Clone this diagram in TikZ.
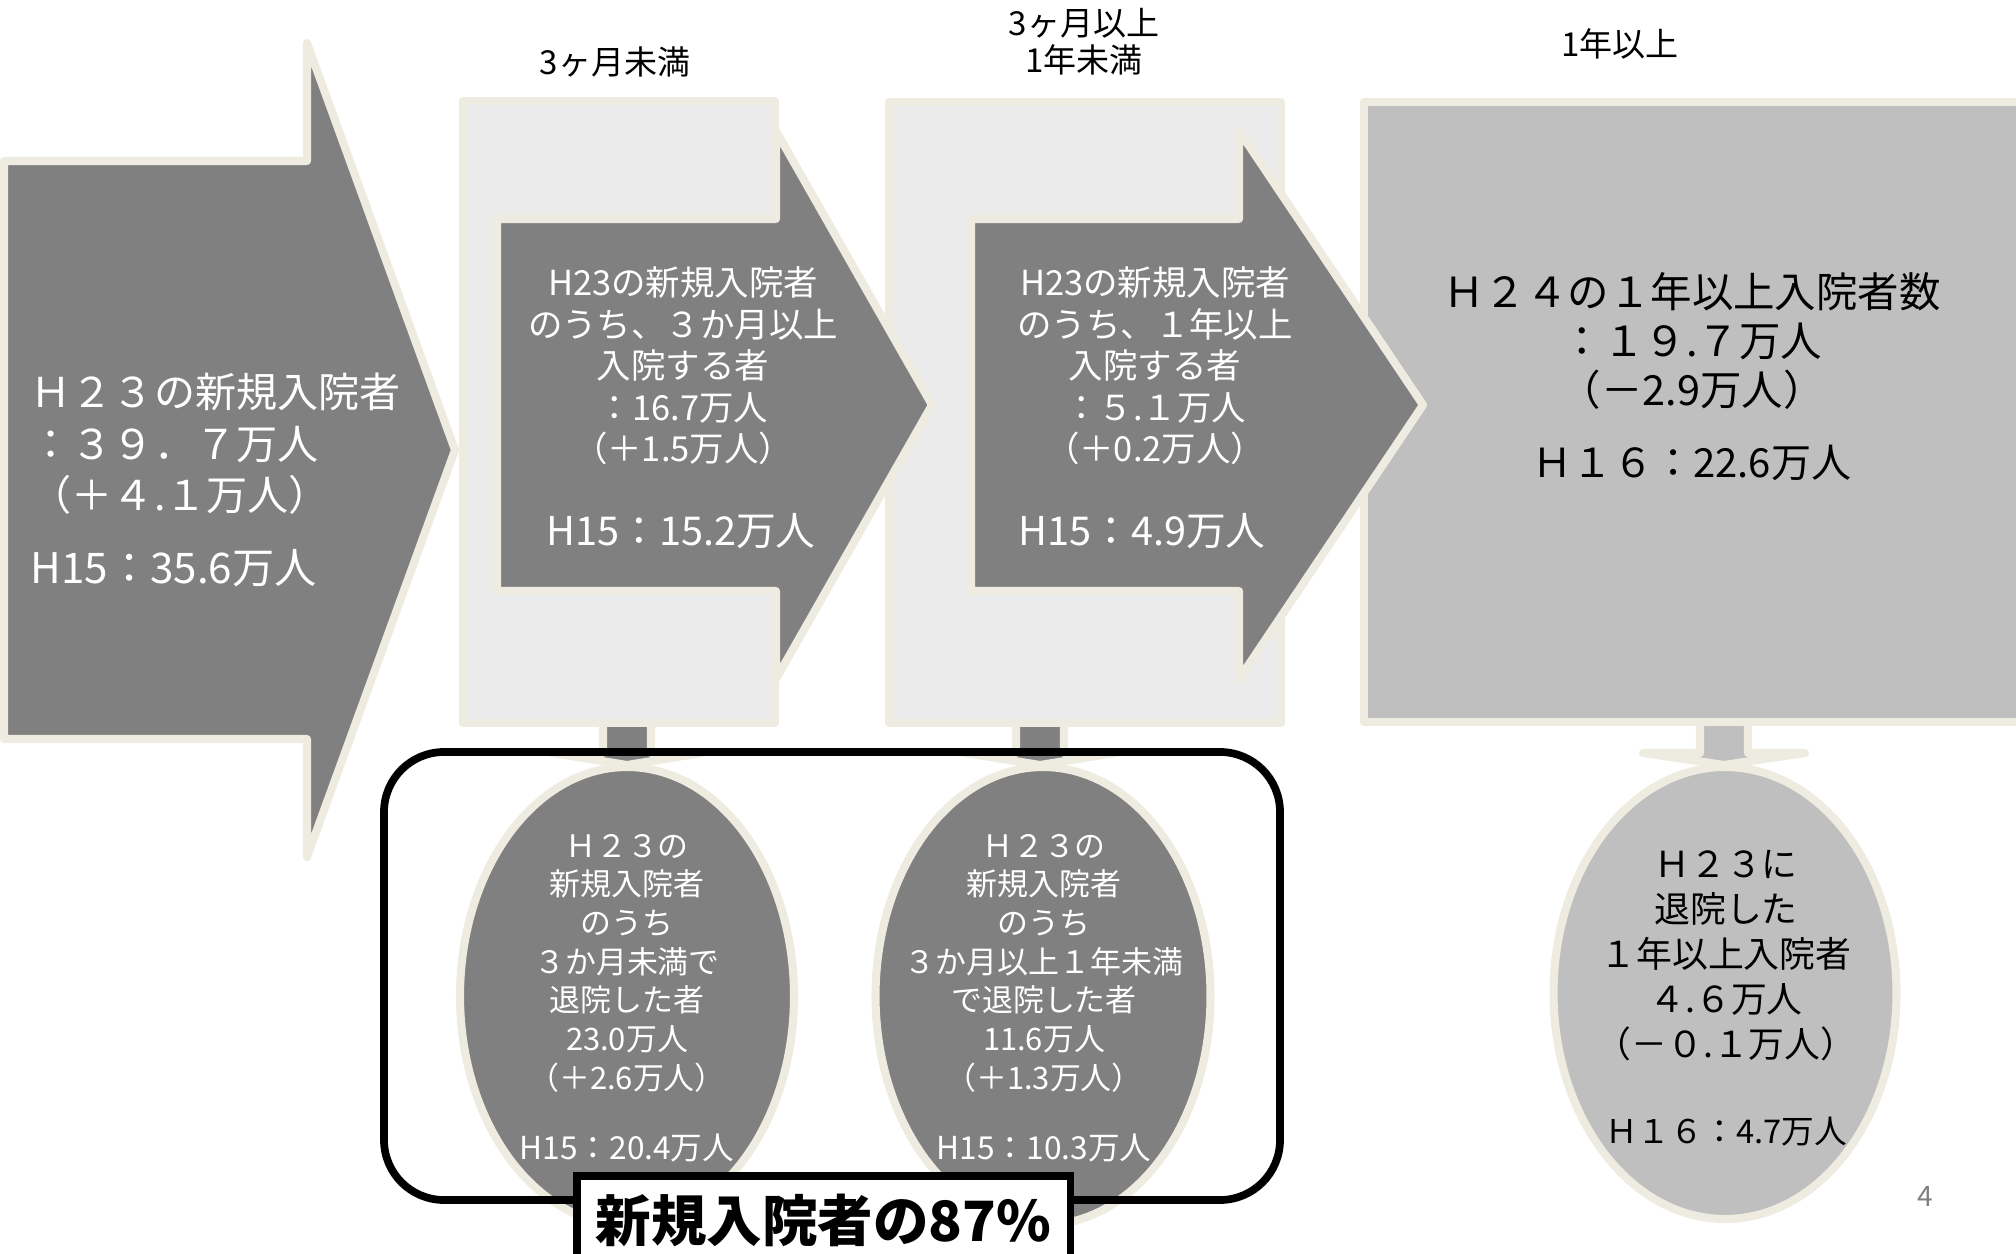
\documentclass[tikz,border=0pt]{standalone}
\usepackage{fontspec}
\setmainfont{Noto Sans CJK JP}

\definecolor{cream}{HTML}{EEECE1}
\definecolor{darkbox}{HTML}{808080}
\definecolor{lightbox}{HTML}{EAEAEA}
\definecolor{midbox}{HTML}{BFBFBF}

\begin{document}
\begin{tikzpicture}[
    rim/.style={draw=cream, line width=2.3pt, line join=round},
    wtext/.style={text=white, align=center, inner sep=0pt},
    btext/.style={text=black, align=center, inner sep=0pt},
    hugefont/.style={font=\fontsize{11.7}{14.6}\selectfont},
    arrowfont/.style={font=\fontsize{9.8}{11.8}\selectfont},
    ovalfont/.style={font=\fontsize{8.8}{11}\selectfont},
    headfont/.style={font=\fontsize{9.4}{10.5}\selectfont},
  ]
  \useasboundingbox (0,0) rectangle (20.16,12.53);

  % stems under the boxes
  \filldraw[rim, fill=darkbox] (6.03,5.45) -- (6.51,5.45) -- (6.51,5.00) -- (7.02,5.00) -- (6.27,4.88) -- (5.52,5.00) -- (6.03,5.00) -- cycle;
  \filldraw[rim, fill=darkbox] (10.16,5.45) -- (10.64,5.45) -- (10.64,5.00) -- (11.15,5.00) -- (10.40,4.88) -- (9.65,5.00) -- (10.16,5.00) -- cycle;
  \filldraw[rim, fill=midbox] (17.00,5.45) -- (17.48,5.45) -- (17.48,5.00) -- (18.05,5.00) -- (17.24,4.88) -- (16.43,5.00) -- (17.00,5.00) -- cycle;

  % period boxes
  \filldraw[rim, fill=lightbox] (4.63,5.30) rectangle (7.75,11.52);
  \filldraw[rim, fill=lightbox] (8.89,5.30) rectangle (12.81,11.51);
  \filldraw[rim, fill=midbox] (13.64,5.31) rectangle (20.40,11.51);

  % block arrows
  \filldraw[rim, fill=darkbox] (0.04,10.92) -- (3.07,10.92) -- (3.07,12.10) -- (4.55,8.03) -- (3.07,3.96) -- (3.07,5.14) -- (0.04,5.14) -- cycle;
  \filldraw[rim, fill=darkbox] (4.97,10.34) -- (7.76,10.34) -- (7.76,11.22) -- (9.32,8.48) -- (7.76,5.74) -- (7.76,6.62) -- (4.97,6.62) -- cycle;
  \filldraw[rim, fill=darkbox] (9.71,10.34) -- (12.39,10.34) -- (12.39,11.22) -- (14.23,8.48) -- (12.39,5.74) -- (12.39,6.62) -- (9.71,6.62) -- cycle;

  % discharge ovals
  \filldraw[rim, fill=darkbox] (6.27,2.57) ellipse (1.67 and 2.29);
  \filldraw[rim, fill=darkbox] (10.43,2.57) ellipse (1.675 and 2.29);
  \filldraw[rim, fill=midbox] (17.25,2.60) ellipse (1.715 and 2.26);

  \draw[black, line width=2.2pt, rounded corners=0.6cm] (3.84,0.53) rectangle (12.80,5.01);
  \node[draw=black, line width=2pt, fill=white, minimum width=4.93cm, minimum height=0.88cm,
        font=\fontsize{15.8}{17}\selectfont\bfseries] (share) at (8.235,0.33) {新規入院者の87\%};

  % headings
  \node[btext, headfont] (h1) at (6.15,11.91) {3ヶ月未満};
  \node[btext, headfont] (h2) at (10.84,12.115) {3ヶ月以上\\1年未満};
  \node[btext, headfont] (h3) at (16.20,12.09) {1年以上};

  % texts in the arrows
  \node[wtext, hugefont, anchor=west, align=left] (new) at (0.30,8.09) {Ｈ２３の新規入院者\\：３９．７万人\\（＋４.１万人）};
  \node[wtext, font=\fontsize{12}{14}\selectfont, anchor=west] (newold) at (0.30,6.85) {H15：35.6万人};

  \node[wtext, arrowfont] (stay3m) at (6.83,8.87) {H23の新規入院者\\のうち、３か月以上\\入院する者\\：16.7万人\\（＋1.5万人）};
  \node[wtext, font=\fontsize{11.3}{13}\selectfont] (stay3mold) at (6.81,7.22) {H15：15.2万人};

  \node[wtext, arrowfont] (stay1y) at (11.55,8.87) {H23の新規入院者\\のうち、１年以上\\入院する者\\：５.１万人\\（＋0.2万人）};
  \node[wtext, font=\fontsize{11.3}{13}\selectfont] (stay1yold) at (11.42,7.22) {H15：4.9万人};

  \node[btext, font=\fontsize{11.8}{14}\selectfont] (long) at (16.92,9.12) {Ｈ２４の１年以上入院者数\\：１９.７万人\\（－2.9万人）};
  \node[btext, font=\fontsize{11.4}{13}\selectfont] (longold) at (16.92,7.90) {Ｈ１６：22.6万人};

  % texts in the ovals
  \node[wtext, ovalfont] (out3m) at (6.27,2.90) {Ｈ２３の\\新規入院者\\のうち\\３か月未満で\\退院した者\\23.0万人\\（＋2.6万人）};
  \node[wtext, font=\fontsize{9}{11}\selectfont] (out3mold) at (6.27,1.05) {H15：20.4万人};

  \node[wtext, ovalfont] (out1y) at (10.44,2.90) {Ｈ２３の\\新規入院者\\のうち\\３か月以上１年未満\\で退院した者\\11.6万人\\（＋1.3万人）};
  \node[wtext, font=\fontsize{9}{11}\selectfont] (out1yold) at (10.44,1.05) {H15：10.3万人};

  \node[btext, font=\fontsize{10.2}{12.8}\selectfont] (outlong) at (17.26,2.97) {Ｈ２３に\\退院した\\１年以上入院者\\４.６万人\\（－０.１万人）};
  \node[btext, font=\fontsize{9.3}{11}\selectfont] (outlongold) at (17.26,1.21) {Ｈ１６：4.7万人};

  \node[text=gray, inner sep=0pt, font=\fontsize{8}{10}\selectfont] (page) at (19.25,0.57) {4};
\end{tikzpicture}
\end{document}
